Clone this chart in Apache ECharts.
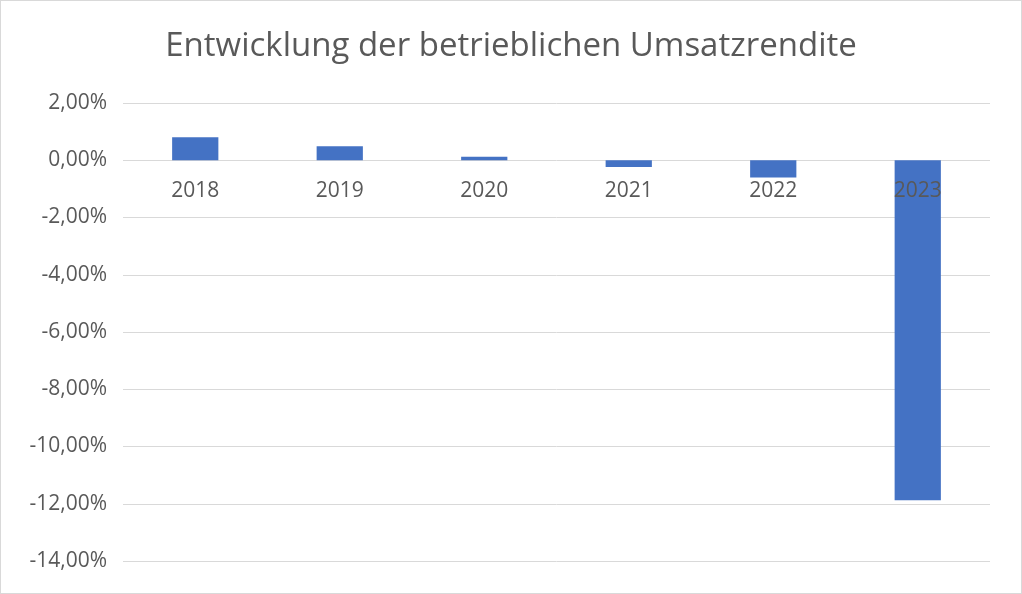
<!DOCTYPE html>
<html><head><meta charset="utf-8">
<script src="https://cdn.jsdelivr.net/npm/echarts@6/dist/echarts.min.js"></script>
<style>html,body{margin:0;padding:0;background:#fff}#c{width:1022px;height:594px;box-sizing:border-box;border:1px solid #d9d9d9}</style>
</head><body><div id="c"></div>
<script>
const title = 'Entwicklung der betrieblichen Umsatzrendite';
const categories = ['2018','2019','2020','2021','2022','2023'];
const values = [0.80, 0.49, 0.12, -0.24, -0.60, -11.88];
const yMin = -14, yMax = 2, yStep = 2;

const gridTop = 102, gridBottom = 32;
const plotH = 594 - gridTop - gridBottom;
const zeroOffset = plotH * (0 - yMin) / (yMax - yMin);

const chart = echarts.init(document.getElementById('c'));
chart.setOption({
  animation: false,
  title: {text: title, left: 'center', top: 24,
    textStyle: {fontFamily: 'Open Sans', fontWeight: 'normal', fontSize: 33, color: '#595959'}},
  grid: {left: 122, right: 31, top: gridTop, bottom: gridBottom, containLabel: false},
  xAxis: {type: 'category', data: categories, z: 10, position: 'bottom', offset: -zeroOffset,
    axisLine: {show: false, onZero: false},
    axisTick: {show: false},
    axisLabel: {fontFamily: 'Open Sans', fontSize: 21, color: '#595959', margin: 22}},
  yAxis: {type: 'value', min: yMin, max: yMax, interval: yStep,
    axisLine: {show: false}, axisTick: {show: false},
    splitLine: {lineStyle: {color: '#d9d9d9', width: 1}},
    axisLabel: {fontFamily: 'Open Sans', fontSize: 21, color: '#595959', margin: 16,
      formatter: v => v.toFixed(2).replace('.', ',') + '%'}},
  series: [{type: 'bar', data: values, barWidth: '32%', z: 2,
    itemStyle: {color: '#4472C4'}}]
});
</script></body></html>
